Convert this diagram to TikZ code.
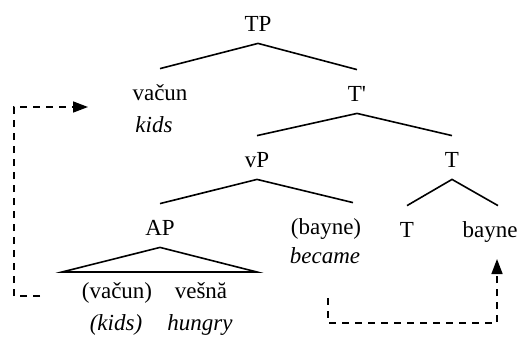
\documentclass[tikz,border=0pt]{standalone}
\usepackage{fontspec}
\setmainfont{Liberation Serif}
\usetikzlibrary{arrows.meta}

\begin{document}
\begin{tikzpicture}[x=0.5pt, y=-0.5pt,
    font=\fontsize{11.5}{14}\selectfont,
    cat/.style={anchor=base, inner sep=0pt, text height=15.5pt, text depth=6pt},
    gloss/.style={anchor=base, inner sep=0pt, font=\fontsize{11.5}{14}\selectfont\itshape},
    branch/.style={line width=0.8pt},
    move/.style={line width=0.8pt, dash pattern=on 3.5pt off 3pt,
                 -{Triangle[length=7.5pt,width=5.5pt]}}]
  \useasboundingbox (0,0) rectangle (517,337);

  % tree labels
  \node[cat] (TP) at (258,31) {TP};
  \node[cat] (vacun) at (160,100) {vačun};
  \node[gloss] (kids) at (154,132) {kids};
  \node[cat] (Tbar) at (357,101) {T\textquotesingle};
  \node[cat] (vP) at (257,167) {vP};
  \node[cat] (T) at (452,167) {T};
  \node[cat] (AP) at (160,235) {AP};
  \node[cat] (bayneTr) at (326,234) {(bayne)};
  \node[gloss] (became) at (325,263) {became};
  \node[cat] (Thead) at (407,237) {T};
  \node[cat] (bayne) at (490,237) {bayne};
  \node[cat] (vacunTr) at (117,298) {(vačun)};
  \node[cat] (vesna) at (201,298) {vešnă};
  \node[gloss] (kidsTr) at (116,330) {(kids)};
  \node[gloss] (hungry) at (200,330) {hungry};

  % branches
  \draw[branch] (vacun.north) -- (TP.south) -- (Tbar.north);
  \draw[branch] (vP.north) -- (Tbar.south) -- (T.north);
  \draw[branch] (AP.north) -- (vP.south) -- ([xshift=13.5pt]bayneTr.north);
  \draw[branch] (Thead.north) -- (T.south) -- ([xshift=4pt]bayne.north);

  % AP triangle
  \coordinate (apL) at (62,272);
  \coordinate (apR) at (257,272);
  \draw[branch] (apL) -- (AP.south) -- (apR) -- cycle;

  % movement arrows
  \coordinate (subjS) at (40,296);
  \coordinate (subjE) at (88,107);
  \draw[move] (subjS) -- ++(-26,0) |- (subjE);
  \coordinate (headS) at (328,298);
  \coordinate (headE) at (497,259);
  \draw[move] (headS) -- ++(0,25) -| (headE);
\end{tikzpicture}
\end{document}
